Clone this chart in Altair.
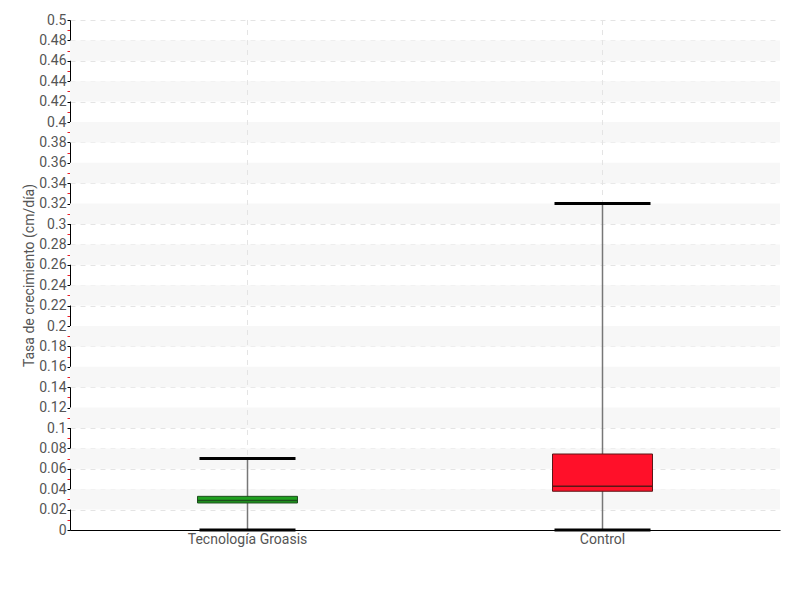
import altair as alt
import pandas as pd

# Box-plot summary values per treatment
categories = ["Tecnología Groasis", "Control"]
whisker_low = [0.0, 0.0]
q1 = [0.0265, 0.038]
median = [0.029, 0.043]
q3 = [0.033, 0.0745]
whisker_high = [0.07, 0.32]
fills = ["#1fa01f", "#ff1029"]
strokes = ["#1d4d1d", "#5a1717"]

# Y ticks every 0.01: even hundredths are labelled, odd ones are minor
tick_values = [round(i * 0.01, 2) for i in range(51)]
band_starts = [0.02, 0.06, 0.10, 0.14, 0.18, 0.22, 0.26, 0.30, 0.34, 0.38, 0.42, 0.46]

FONT = "Roboto, DejaVu Sans, sans-serif"
W, H = 710, 510

boxes = pd.DataFrame({
    "cat": categories, "lo": whisker_low, "q1": q1, "med": median,
    "q3": q3, "hi": whisker_high, "fill": fills, "stroke": strokes,
})
bands = pd.DataFrame({"y0": band_starts, "y1": [round(b + 0.02, 2) for b in band_starts]})

yscale = alt.Scale(domain=[0, 0.5], nice=False, zero=True)
xscale = alt.Scale(domain=categories, paddingInner=0, paddingOuter=0)

IS_MAJOR = "round(datum.value * 100) % 2 == 0"

x_enc = alt.X("cat:N", scale=xscale, sort=categories, title=None,
              axis=alt.Axis(labelAngle=0, ticks=False, domain=True, domainColor="#000",
                            labelFont=FONT, labelFontSize=14, labelColor="#555",
                            labelPadding=2, grid=False))
y_axis = alt.Axis(
    values=tick_values,
    labelExpr=f"{IS_MAJOR} ? format(datum.value, '.2~f') : ''",
    labelOverlap=False, labelBound=False,
    domainColor="#000",
    ticks=True,
    tickColor={"condition": {"test": IS_MAJOR, "value": "#000"}, "value": "#e8202a"},
    tickSize=3,
    grid=True, gridColor="#e4e4e4", gridDash=[5, 5],
    gridOpacity={"condition": {"test": IS_MAJOR, "value": 1}, "value": 0},
    labelFont=FONT, labelFontSize=14, labelColor="#555", labelPadding=1,
    title="Tasa de crecimiento (cm/día)", titleFont=FONT, titleFontSize=14,
    titleColor="#555", titleFontWeight="normal", titlePadding=2,
)


def yq(field):
    return alt.Y(field, scale=yscale, axis=y_axis)


band_layer = alt.Chart(bands).mark_rect(color="#f7f7f7").encode(
    x=alt.value(0), x2=alt.value(W), y=yq("y0:Q"), y2="y1:Q",
)

vgrid = alt.Chart(boxes).mark_rule(color="#e4e4e4", strokeDash=[5, 5]).encode(x=x_enc)

whisker = alt.Chart(boxes).mark_rule(color="#777", strokeWidth=1.5).encode(
    x=x_enc, y=yq("lo:Q"), y2="hi:Q")

box = alt.Chart(boxes).mark_bar(size=100, strokeWidth=1).encode(
    x=x_enc, y=yq("q1:Q"), y2="q3:Q",
    fill=alt.Fill("fill:N", scale=None), stroke=alt.Stroke("stroke:N", scale=None))

med = alt.Chart(boxes).mark_tick(size=100, thickness=1.5, opacity=1).encode(
    x=x_enc, y=yq("med:Q"), color=alt.Color("stroke:N", scale=None))

cap_hi = alt.Chart(boxes).mark_tick(size=96, thickness=3, color="#000", opacity=1).encode(
    x=x_enc, y=yq("hi:Q"))
cap_lo = alt.Chart(boxes).mark_tick(size=96, thickness=3, color="#000", opacity=1).encode(
    x=x_enc, y=yq("lo:Q"))

chart = alt.layer(
    band_layer, vgrid, whisker, box, med, cap_hi, cap_lo
).properties(
    width=W, height=H,
    autosize=alt.AutoSizeParams(type="none"),
    padding={"left": 70, "top": 20, "right": 20, "bottom": 70},
).configure(background="white", view=alt.ViewConfig(stroke=None)
).configure_axisY(labelOverlap=False)

chart.save("out.html", embed_options={"renderer": "svg", "actions": False})
